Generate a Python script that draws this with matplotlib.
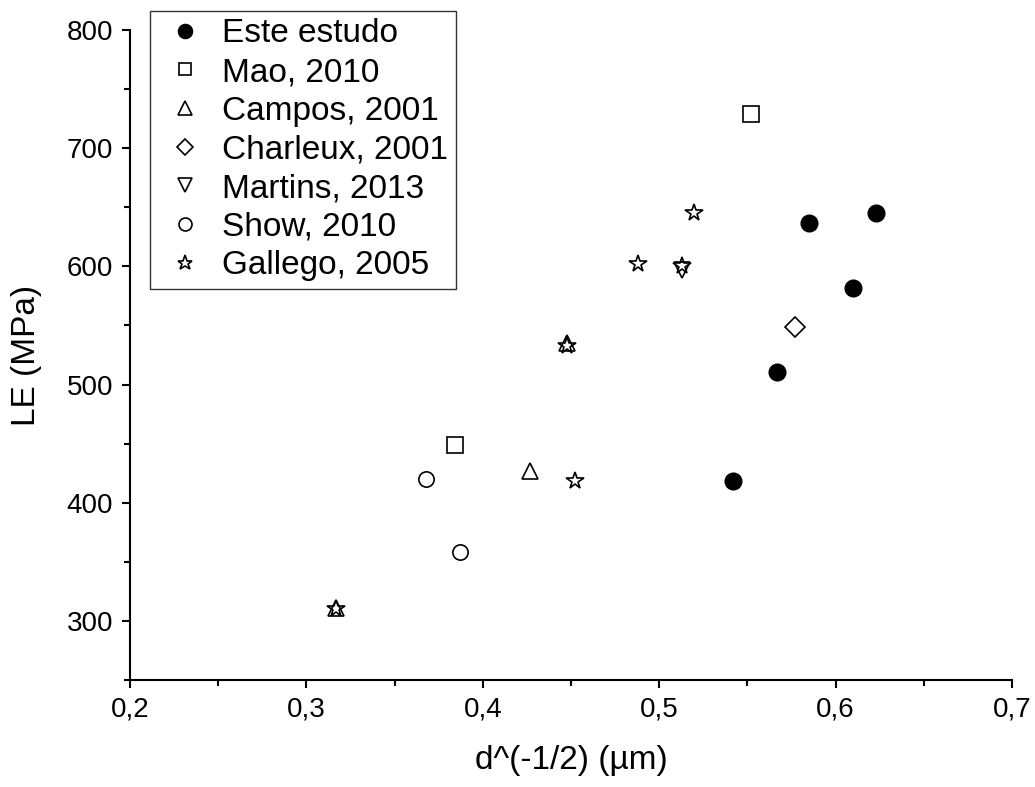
import matplotlib
matplotlib.use("Agg")
import matplotlib.pyplot as plt
from matplotlib.ticker import MultipleLocator, FixedLocator, FixedFormatter

plt.rcParams['font.family'] = ['Liberation Sans', 'DejaVu Sans']

# ---- data ----
este_x = [0.542, 0.567, 0.585, 0.610, 0.623]
este_y = [418, 511, 637, 582, 645]
mao_x = [0.384, 0.552]
mao_y = [449, 729]
campos_x = [0.317, 0.427, 0.448]
campos_y = [311, 427, 535]
charleux_x = [0.577]
charleux_y = [549]
martins_x = [0.513]
martins_y = [597]
show_x = [0.368, 0.387]
show_y = [420, 358]
gallego_x = [0.317, 0.452, 0.448, 0.488, 0.513, 0.520]
gallego_y = [310, 418, 533, 602, 600, 645]

series_labels = ["Este estudo", "Mao, 2010", "Campos, 2001", "Charleux, 2001",
                 "Martins, 2013", "Show, 2010", "Gallego, 2005"]
x_ticks = [0.2, 0.3, 0.4, 0.5, 0.6, 0.7]
x_ticklabels = ["0,2", "0,3", "0,4", "0,5", "0,6", "0,7"]
y_ticks = [300, 400, 500, 600, 700, 800]
y_ticklabels = ["300", "400", "500", "600", "700", "800"]
x_label = "d^(-1/2) (µm)"
y_label = "LE (MPa)"

# ---- figure ----
W, H = 1035, 787
fig = plt.figure(figsize=(W / 100, H / 100), dpi=100)
ax = fig.add_axes([130 / W, 1 - 680 / H, (1012 - 130) / W, (680 - 30) / H])

mew = 1.2
ax.plot(este_x, este_y, 'o', ls='none', color='black', ms=12, label=series_labels[0])
ax.plot(mao_x, mao_y, 's', ls='none', mfc='none', mec='black', mew=mew, ms=11, label=series_labels[1])
ax.plot(campos_x, campos_y, '^', ls='none', mfc='none', mec='black', mew=mew, ms=12, label=series_labels[2])
ax.plot(charleux_x, charleux_y, 'D', ls='none', mfc='none', mec='black', mew=mew, ms=10, label=series_labels[3])
ax.plot(martins_x, martins_y, 'v', ls='none', mfc='none', mec='black', mew=mew, ms=12, label=series_labels[4])
ax.plot(show_x, show_y, 'o', ls='none', mfc='none', mec='black', mew=mew, ms=11, label=series_labels[5])
ax.plot(gallego_x, gallego_y, '*', ls='none', mfc='none', mec='black', mew=mew, ms=13, label=series_labels[6])

ax.set_xlim(0.2, 0.7)
ax.set_ylim(250, 800)
ax.xaxis.set_major_locator(FixedLocator(x_ticks))
ax.xaxis.set_major_formatter(FixedFormatter(x_ticklabels))
ax.yaxis.set_major_locator(FixedLocator(y_ticks))
ax.yaxis.set_major_formatter(FixedFormatter(y_ticklabels))
ax.xaxis.set_minor_locator(MultipleLocator(0.05))
ax.yaxis.set_minor_locator(MultipleLocator(50))

for s in ['top', 'right']:
    ax.spines[s].set_visible(False)
for s in ['left', 'bottom']:
    ax.spines[s].set_linewidth(1.5)

ax.tick_params(which='major', direction='out', length=6, width=1.5, labelsize=20, pad=6)
ax.tick_params(which='minor', direction='out', length=4, width=1.5)

ax.set_xlabel(x_label, fontsize=24, labelpad=16)
ax.set_ylabel(y_label, fontsize=24, labelpad=18)

leg = ax.legend(loc='upper left', bbox_to_anchor=(150 / W, 1 - 11 / H),
                bbox_transform=fig.transFigure, fontsize=24, frameon=True,
                fancybox=False, edgecolor='black', borderpad=0.22,
                labelspacing=0.23, handlelength=1.65, handletextpad=0.3,
                borderaxespad=0, numpoints=1, markerscale=0.85)
leg.get_frame().set_linewidth(1.0)

fig.savefig("out.png", dpi=100)
